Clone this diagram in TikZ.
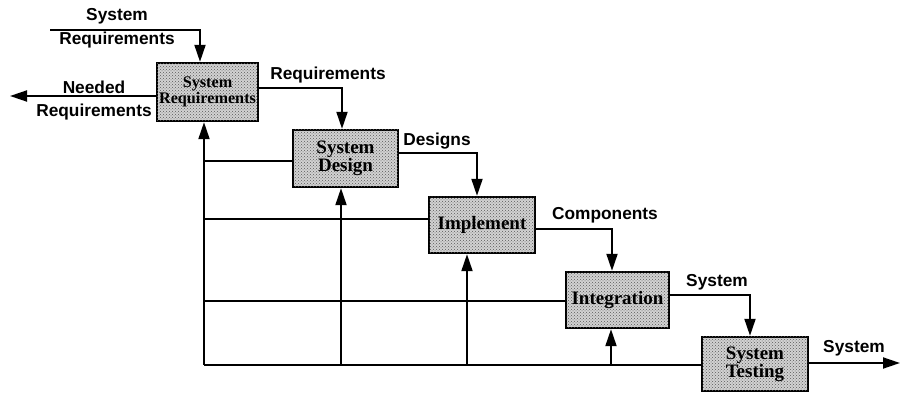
\documentclass[tikz,border=0pt]{standalone}
\usepackage{fontspec}
\setmainfont{Liberation Serif}
\setsansfont{Liberation Sans}
\usetikzlibrary{arrows.meta,patterns}
\begin{document}
\begin{tikzpicture}[x=1pt,y=-1pt,
  phase/.style={draw=black,line width=2.4pt,fill=gray!35,
    postaction={pattern=crosshatch dots,pattern color=black!65},
    inner sep=0pt,align=center,font=\fontsize{19}{18}\selectfont\bfseries},
  flow/.style={line width=1.9pt,-{Triangle[length=17pt,width=11pt]}},
  line/.style={line width=1.9pt},
  lbl/.style={font=\sffamily\bfseries\fontsize{17.3}{18}\selectfont,inner sep=0pt,align=center}]
\useasboundingbox (0,0) rectangle (903,395);
% boxes
\node[phase,minimum width=101pt,minimum height=58pt,font=\fontsize{16.2}{16}\selectfont\bfseries] (b1) at (207.5,92) {System\\Requirements};
\node[phase,minimum width=105pt,minimum height=57pt] (b2) at (345.5,158.5) {System\\Design};
\node[phase,minimum width=106pt,minimum height=56pt] (b3) at (482,225) {Implement};
\node[phase,minimum width=103pt,minimum height=56pt] (b4) at (617.5,300) {Integration};
\node[phase,minimum width=106pt,minimum height=54pt] (b5) at (755,364) {System\\Testing};
% helper coordinates
\coordinate (in0) at (50,30);
\coordinate (in1) at (200,30);
\coordinate (outL) at (10,96);
\coordinate (outR) at (900,363);
\coordinate (fbx) at (204,365);
\coordinate (c12) at (342,88);
\coordinate (c23) at (477,153);
\coordinate (c34) at (612,229);
\coordinate (c45) at (750,295);
\coordinate (u2) at (341,365);
\coordinate (u3) at (467,365);
\coordinate (u4) at (611,365);
% forward flow
\draw[flow] (in0) -- (in1) -- (in1 |- b1.north);
\draw[flow] (b1.west |- outL) -- (outL);
\draw[flow] (b1.east |- c12) -- (c12) -- (c12 |- b2.north);
\draw[flow] (b2.east |- c23) -- (c23) -- (c23 |- b3.north);
\draw[flow] (b3.east |- c34) -- (c34) -- (c34 |- b4.north);
\draw[flow] (b4.east |- c45) -- (c45) -- (c45 |- b5.north);
\draw[flow] (b5.east |- outR) -- (outR);
% feedback
\draw[line] (b5.west |- fbx) -- (fbx);
\draw[flow] (fbx) -- (fbx |- b1.south);
\draw[line] (b2.west |- 0,161) -- (fbx |- 0,161);
\draw[line] (b3.west |- 0,219) -- (fbx |- 0,219);
\draw[line] (b4.west |- 0,301) -- (fbx |- 0,301);
\draw[flow] (u2) -- (u2 |- b2.south);
\draw[flow] (u3) -- (u3 |- b3.south);
\draw[flow] (u4) -- (u4 |- b4.south);
% labels
\node[lbl] (l1) at (117,16) {System};
\node[lbl] (l2) at (117,40) {Requirements};
\node[lbl] (l3) at (94,87) {Needed};
\node[lbl] (l4) at (94,112) {Requirements};
\node[lbl] (l5) at (328,75) {Requirements};
\node[lbl] (l6) at (437,141) {Designs};
\node[lbl] (l7) at (605,215) {Components};
\node[lbl] (l8) at (717,282) {System};
\node[lbl] (l9) at (854,348) {System};
\end{tikzpicture}
\end{document}
